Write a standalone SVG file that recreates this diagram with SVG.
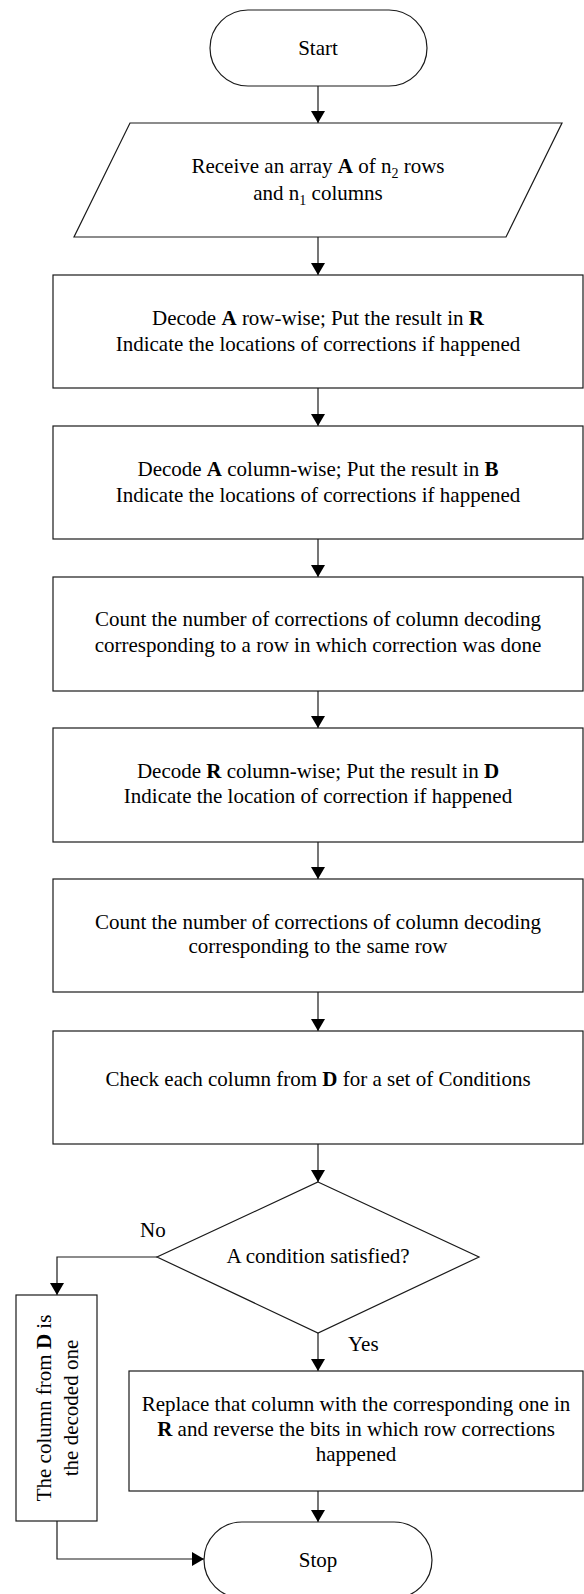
<svg xmlns="http://www.w3.org/2000/svg" width="584" height="1594" viewBox="0 0 584 1594">
<defs>
<style>
.s{fill:#fff;stroke:#1a1a1a;stroke-width:1.2}
.c{fill:none;stroke:#1a1a1a;stroke-width:1.2}
text{font-family:"Liberation Serif","Times New Roman",serif;font-size:21px;fill:#000}
.m{text-anchor:middle}
.b{font-weight:bold}
.sub{font-size:14px}
</style>
<marker id="ah" viewBox="0 0 12 14" refX="12" refY="7" markerWidth="12" markerHeight="14" markerUnits="userSpaceOnUse" orient="auto">
<path d="M0,0 L12,7 L0,14 Z" fill="#000"/>
</marker>
</defs>
<rect width="584" height="1594" fill="#fff"/>

<g id="connectors">
<line class="c" x1="318" y1="86" x2="318" y2="123" marker-end="url(#ah)"/>
<line class="c" x1="318" y1="237" x2="318" y2="275" marker-end="url(#ah)"/>
<line class="c" x1="318" y1="388" x2="318" y2="426" marker-end="url(#ah)"/>
<line class="c" x1="318" y1="539" x2="318" y2="577" marker-end="url(#ah)"/>
<line class="c" x1="318" y1="691" x2="318" y2="728" marker-end="url(#ah)"/>
<line class="c" x1="318" y1="842" x2="318" y2="879" marker-end="url(#ah)"/>
<line class="c" x1="318" y1="992" x2="318" y2="1031" marker-end="url(#ah)"/>
<line class="c" x1="318" y1="1144" x2="318" y2="1182" marker-end="url(#ah)"/>
<line class="c" x1="318" y1="1333" x2="318" y2="1371" marker-end="url(#ah)"/>
<line class="c" x1="318" y1="1491" x2="318" y2="1522" marker-end="url(#ah)"/>
<polyline class="c" points="157,1257 57,1257 57,1295" marker-end="url(#ah)"/>
<polyline class="c" points="57,1521 57,1559 204,1559" marker-end="url(#ah)"/>
<text x="140" y="1237">No</text>
<text x="348" y="1351">Yes</text>
</g>

<g id="start">
<rect class="s" x="210" y="10" width="217" height="76" rx="38" ry="38"/>
<text class="m" x="318" y="55">Start</text>
</g>

<g id="input">
<polygon class="s" points="130,123 562,123 506,237 74,237"/>
<text class="m" x="318" y="173">Receive an array <tspan class="b">A</tspan> of n<tspan class="sub" dy="5">2</tspan><tspan dy="-5"> rows</tspan></text>
<text class="m" x="318" y="200">and n<tspan class="sub" dy="5">1</tspan><tspan dy="-5"> columns</tspan></text>
</g>

<g id="box1">
<rect class="s" x="53" y="275" width="530" height="113"/>
<text class="m" x="318" y="325">Decode <tspan class="b">A</tspan> row-wise; Put the result in <tspan class="b">R</tspan></text>
<text class="m" x="318" y="351">Indicate the locations of corrections if happened</text>
</g>

<g id="box2">
<rect class="s" x="53" y="426" width="530" height="113"/>
<text class="m" x="318" y="476">Decode <tspan class="b">A</tspan> column-wise; Put the result in <tspan class="b">B</tspan></text>
<text class="m" x="318" y="502">Indicate the locations of corrections if happened</text>
</g>

<g id="box3">
<rect class="s" x="53" y="577" width="530" height="114"/>
<text class="m" x="318" y="626">Count the number of corrections of column decoding</text>
<text class="m" x="318" y="652">corresponding to a row in which correction was done</text>
</g>

<g id="box4">
<rect class="s" x="53" y="728" width="530" height="114"/>
<text class="m" x="318" y="778">Decode <tspan class="b">R</tspan> column-wise; Put the result in <tspan class="b">D</tspan></text>
<text class="m" x="318" y="803">Indicate the location of correction if happened</text>
</g>

<g id="box5">
<rect class="s" x="53" y="879" width="530" height="113"/>
<text class="m" x="318" y="929">Count the number of corrections of column decoding</text>
<text class="m" x="318" y="953">corresponding to the same row</text>
</g>

<g id="box6">
<rect class="s" x="53" y="1031" width="530" height="113"/>
<text class="m" x="318" y="1086">Check each column from <tspan class="b">D</tspan> for a set of Conditions</text>
</g>

<g id="decision">
<polygon class="s" points="318,1182 479,1257 318,1333 157,1257"/>
<text class="m" x="318" y="1263">A condition satisfied?</text>
</g>

<g id="no-box">
<rect class="s" x="16" y="1295" width="81" height="226"/>
<text class="m" transform="translate(51,1408) rotate(-90)">The column from <tspan class="b">D</tspan> is</text>
<text class="m" transform="translate(78,1408) rotate(-90)">the decoded one</text>
</g>

<g id="yes-box">
<rect class="s" x="129" y="1371" width="454" height="120"/>
<text class="m" x="356" y="1411">Replace that column with the corresponding one in</text>
<text class="m" x="356" y="1436"><tspan class="b">R</tspan> and reverse the bits in which row corrections</text>
<text class="m" x="356" y="1461">happened</text>
</g>

<g id="stop">
<rect class="s" x="204" y="1522" width="228" height="76" rx="38" ry="38"/>
<text class="m" x="318" y="1567">Stop</text>
</g>
</svg>
